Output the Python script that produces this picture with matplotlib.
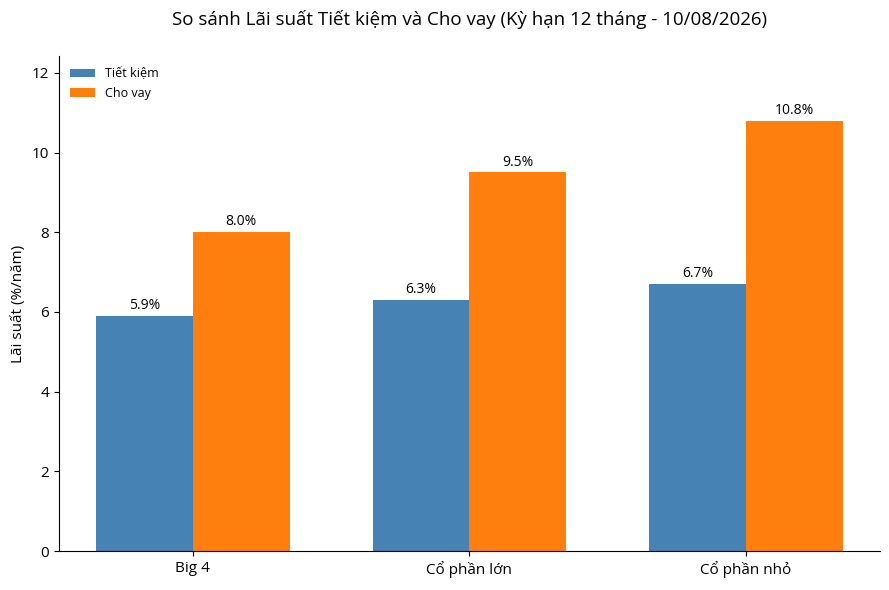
import matplotlib
matplotlib.use("Agg")
import matplotlib.pyplot as plt
import numpy as np

plt.rcParams['font.family'] = ['Open Sans', 'DejaVu Sans']

categories = ["Big 4", "Cổ phần lớn", "Cổ phần nhỏ"]
tiet_kiem = [5.9, 6.3, 6.7]
cho_vay = [8.0, 9.5, 10.8]
series_labels = ["Tiết kiệm", "Cho vay"]

fig = plt.figure(figsize=(8.89, 5.9), dpi=100)
ax = fig.add_axes([0.066, 0.066, 0.924, 0.839])

x = np.arange(len(categories))
w = 0.35
b1 = ax.bar(x - w/2, tiet_kiem, w, color="#4682B4", label=series_labels[0])
b2 = ax.bar(x + w/2, cho_vay, w, color="#FF7F0E", label=series_labels[1])

for bars, vals in ((b1, tiet_kiem), (b2, cho_vay)):
    for r, v in zip(bars, vals):
        ax.annotate(f"{v:.1f}%", (r.get_x() + r.get_width()/2, v),
                    xytext=(0, 2), textcoords="offset points",
                    ha="center", va="bottom", fontsize=10)

ax.set_xticks(x)
ax.set_xticklabels(categories, fontsize=11)
ax.tick_params(axis='y', labelsize=11)
ax.set_ylim(0, max(cho_vay) * 1.15)
ax.set_ylabel("Lãi suất (%/năm)", fontsize=11)
ax.set_title("So sánh Lãi suất Tiết kiệm và Cho vay (Kỳ hạn 12 tháng - 10/08/2026)",
             fontsize=13.5, pad=22)
ax.spines['top'].set_visible(False)
ax.spines['right'].set_visible(False)
ax.legend(frameon=False, fontsize=9, loc="upper left")

fig.savefig("out.png", dpi=100)
